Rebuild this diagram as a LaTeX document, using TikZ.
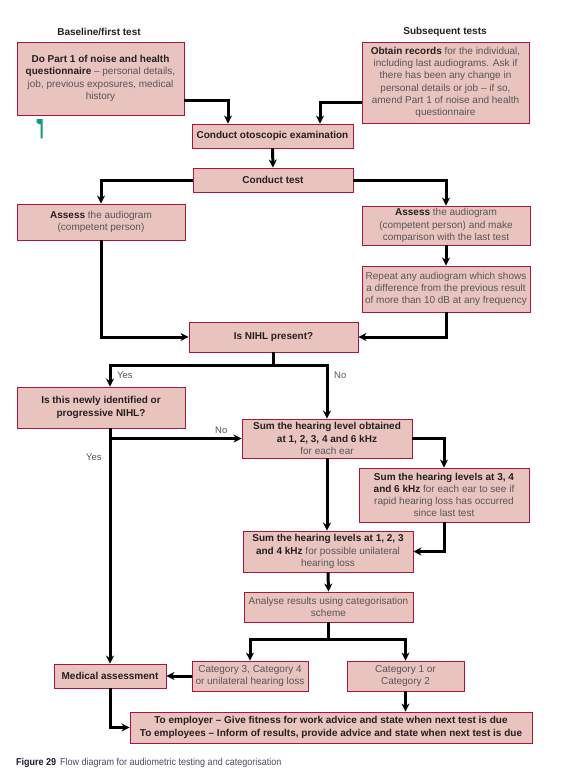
\documentclass[tikz,border=0pt]{standalone}
\usepackage{fontspec}
\setmainfont{Liberation Sans}
\newfontfamily\capfont[FakeStretch=0.9]{Liberation Sans}
\usetikzlibrary{arrows.meta}
\definecolor{boxfill}{HTML}{E9C4BE}
\definecolor{boxline}{HTML}{A8153F}
\definecolor{txtgrey}{HTML}{555658}
\definecolor{txtdark}{HTML}{231F20}
\definecolor{markteal}{HTML}{13997A}
\definecolor{capdark}{HTML}{1C1C3A}
\definecolor{capgrey}{HTML}{4A4A66}
\newcommand{\bt}[1]{{\bfseries\color{txtdark}#1}}
\begin{document}
\begin{tikzpicture}[x=1pt,y=-1pt,
  box/.style={draw=boxline, fill=boxfill, line width=0.9pt, align=center, inner sep=0pt,
    font=\fontsize{10}{12.2}\selectfont, text=txtgrey},
  conn/.style={line width=3pt, draw=black},
  arr/.style={conn, -{Stealth[length=8pt,width=8pt,inset=2.5pt]}},
  lbl/.style={font=\fontsize{9.5}{11}\selectfont, text=txtgrey, inner sep=0pt},
  head/.style={font=\bfseries\fontsize{10}{12}\selectfont, text=txtdark, inner sep=0pt}]
\fill[white] (0,0) rectangle (570,782);
\useasboundingbox (0,0) rectangle (570,782);

% headings
\node[head] (h1) at (99,32) {Baseline/first test};
\node[head] (h2) at (445,32) {Subsequent tests};

% boxes
\node[box, minimum width=167pt, minimum height=73pt] (b1) at (100.5,78.5)
  {\bt{Do Part 1 of noise and health}\\ \bt{questionnaire} – personal details,\\ job, previous exposures, medical\\ history};
\node[box, minimum width=167pt, minimum height=81pt] (b2) at (445.5,82.5)
  {\bt{Obtain records} for the individual,\\ including last audiograms. Ask if\\ there has been any change in\\ personal details or job – if so,\\ amend Part 1 of noise and health\\ questionnaire};
\node[box, minimum width=161pt, minimum height=24pt] (oto) at (272.5,136)
  {\bt{Conduct otoscopic examination}};
\node[box, minimum width=160pt, minimum height=24pt] (test) at (273,180)
  {\bt{Conduct test}};
\node[box, minimum width=168pt, minimum height=36pt] (aL) at (101,222)
  {\bt{Assess} the audiogram\\ (competent person)};
\node[box, minimum width=168pt, minimum height=39pt] (aR) at (446,225.5)
  {\bt{Assess} the audiogram\\ (competent person) and make\\ comparison with the last test};
\node[box, minimum width=168pt, minimum height=46pt] (rep) at (446,289)
  {Repeat any audiogram which shows\\ a difference from the previous result\\ of more than 10 dB at any frequency};
\node[box, minimum width=169pt, minimum height=30pt] (nihl) at (273.5,337)
  {\bt{Is NIHL present?}};
\node[box, minimum width=168pt, minimum height=41pt] (isnew) at (101,407.5)
  {\bt{Is this newly identified or}\\ \bt{progressive NIHL?}};
\node[box, minimum width=170pt, minimum height=39pt] (s1) at (327,438.5)
  {\bt{Sum the hearing level obtained}\\ \bt{at 1, 2, 3, 4 and 6 kHz}\\ for each ear};
\node[box, minimum width=170pt, minimum height=54pt] (s2) at (444,495)
  {\bt{Sum the hearing levels at 3, 4}\\ \bt{and 6 kHz} for each ear to see if\\ rapid hearing loss has occurred\\ since last test};
\node[box, minimum width=170pt, minimum height=41pt] (s3) at (328,551.5)
  {\bt{Sum the hearing levels at 1, 2, 3}\\ \bt{and 4 kHz} for possible unilateral\\ hearing loss};
\node[box, minimum width=169pt, minimum height=30pt] (an) at (328.5,607)
  {Analyse results using categorisation\\ scheme};
\node[box, minimum width=116pt, minimum height=30pt] (c3) at (250,676)
  {Category 3, Category 4\\ or unilateral hearing loss};
\node[box, minimum width=117pt, minimum height=30pt] (c1) at (405.5,676)
  {Category 1 or\\ Category 2};
\node[box, minimum width=112pt, minimum height=24pt] (med) at (110,676)
  {\bt{Medical assessment}};
\node[box, minimum width=402pt, minimum height=31pt] (emp) at (331,727.5)
  {\bt{To employer – Give fitness for work advice and state when next test is due}\\
   \bt{To employees – Inform of results, provide advice and state when next test is due}};

% junction coordinates
\coordinate (j1) at (nihl.south |- 0,365);
\coordinate (j2) at (med.north |- s1.west);
\coordinate (j3) at (an.south |- 0,639);

% connectors
\draw[arr] (b1.east |- 0,100) -| (oto.north -| 228,0);
\draw[arr] (b2.west |- 0,102) -| (oto.north -| 320,0);
\draw[arr] (oto.south) -- (test.north);
\draw[arr] (test.west) -| (aL.north);
\draw[arr] (test.east) -| (aR.north);
\draw[arr] (aR.south) -- (rep.north);
\draw[arr] (aL.south) |- (nihl.west);
\draw[arr] (rep.south) |- (nihl.east);
\draw[conn] (nihl.south) -- (j1);
\draw[arr] (j1) -| (isnew.north -| med.north);
\draw[arr] (j1) -| (s1.north);
\draw[arr] (isnew.south -| med.north) -- (med.north);
\draw[arr] (j2) -- (s1.west);
\draw[arr] (s1.east) -| (s2.north);
\draw[arr] (s1.south) -- (s1.south |- s3.north);
\draw[arr] (s2.south) |- (s3.east);
\draw[arr] (s3.south) -- (an.north);
\draw[conn] (an.south) -- (j3);
\draw[arr] (j3) -| (c3.north);
\draw[arr] (j3) -| (c1.north);
\draw[arr] (c3.west) -- (med.east);
\draw[arr] (med.south) |- (emp.west);
\draw[arr] (c1.south) -- (c1.south |- emp.north);

% labels
\node[lbl, anchor=west] (yes1) at (117,375) {Yes};
\node[lbl, anchor=west] (no1) at (334,375) {No};
\node[lbl, anchor=west] (no2) at (215,430) {No};
\node[lbl, anchor=west] (yes2) at (86,457) {Yes};

% stray teal mark
\fill[markteal] (36.7,119) -- (42.7,119) -- (42.7,138.3) -- (40.7,138.3) -- (40.7,124)
  -- (38.5,124) .. controls (37.3,124) and (36.7,123.3) .. (36.7,122.3) -- cycle;

% caption
\node[anchor=west, inner sep=0pt, font=\capfont\fontsize{10}{12}\selectfont] (cap) at (16,763)
  {{\bfseries\color{capdark}Figure 29}\hspace{4pt}{\color{capgrey}Flow diagram for audiometric testing and categorisation}};
\end{tikzpicture}
\end{document}
